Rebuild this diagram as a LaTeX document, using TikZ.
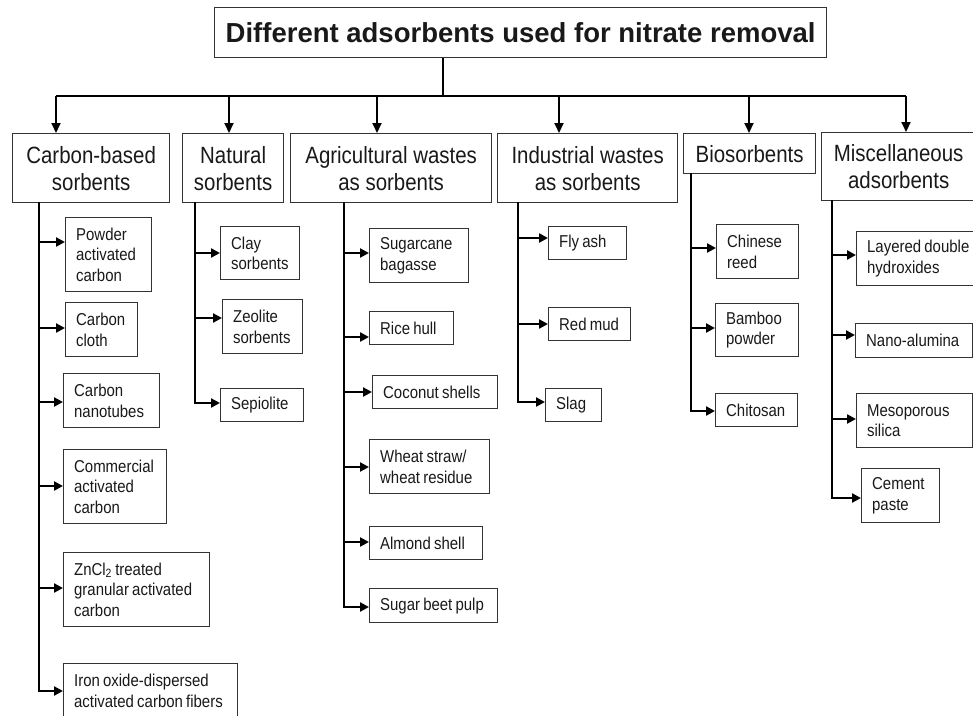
\documentclass[tikz,border=0pt]{standalone}
\usepackage{fontspec}
\setmainfont{Liberation Sans}
\newfontfamily\tallsans{Liberation Sans}[FakeStretch=0.87]
\usetikzlibrary{arrows.meta}

\tikzset{
  box/.style={draw=black!80, line width=1.3pt, inner sep=0pt, anchor=north west, text=black!90},
  titlebox/.style={box, font=\bfseries\fontsize{27.5}{33}\selectfont},
  catbox/.style={box, align=center, font=\tallsans\fontsize{23.5}{27}\selectfont},
  itembox/.style={box, align=left, inner xsep=10.5pt,
    font=\tallsans\fontsize{17.2}{20.5}\selectfont,
    execute at begin node={\hyphenpenalty=10000 \exhyphenpenalty=10000 \spaceskip=3.2pt\relax}},
  down/.style={line width=2pt, -{Triangle[length=10pt,width=9pt]}},
  feed/.style={line width=2.6pt, -{Triangle[length=9pt,width=9pt]}},
  trunk/.style={line width=1.9pt, line cap=rect}
}

\begin{document}
\begin{tikzpicture}[x=1pt,y=-1pt]
  \useasboundingbox (0,0) rectangle (973,715);
  \clip (0,0) rectangle (973,715);

  % title, stem and bus
  \node[titlebox, minimum width=612pt, minimum height=50pt] (title) at (214,7)
    {Different adsorbents used for nitrate removal};
  \coordinate (stem) at (443,96);
  \foreach \i/\x in {1/56, 2/229, 3/377, 4/559, 5/749, 6/906}
    \coordinate (b\i) at (\x,96);
  \draw[line width=1.2pt] (stem |- title.south) -- (stem);
  \draw[line width=1.8pt] (b1) -- (b6);

  % groups of adsorbents
  \node[catbox, minimum width=157pt, minimum height=69pt] (cat1) at (12,133) {Carbon-based\\sorbents};
  \node[catbox, minimum width=101pt, minimum height=69pt] (cat2) at (182,133) {Natural\\sorbents};
  \node[catbox, minimum width=201pt, minimum height=69pt] (cat3) at (290,133) {Agricultural wastes\\as sorbents};
  \node[catbox, minimum width=180pt, minimum height=69pt] (cat4) at (497,133) {Industrial wastes\\as sorbents};
  \node[catbox, minimum width=132pt, minimum height=40pt] (cat5) at (683,133) {Biosorbents};
  \node[catbox, minimum width=154pt, minimum height=68pt] (cat6) at (821,132) {Miscellaneous\\adsorbents};
  \foreach \i in {1,...,6}
    \draw[down] (b\i) -- (b\i |- cat\i.north);

  % carbon-based sorbents
  \node[itembox, text width=65pt, minimum height=74pt] (pac) at (65,217) {Powder\\activated\\carbon};
  \node[itembox, text width=51pt, minimum height=54pt] (cc) at (65,302) {Carbon\\cloth};
  \node[itembox, text width=75pt, minimum height=54pt] (cnt) at (63,373) {Carbon\\nanotubes};
  \node[itembox, text width=82pt, minimum height=74pt] (cac) at (63,449) {Commercial\\activated\\carbon};
  \node[itembox, text width=125pt, minimum height=74pt] (zn) at (63,552)
    {ZnCl\textsubscript{2}~treated\\granular~activated\\carbon};
  \node[itembox, text width=153pt, minimum height=54pt] (iof) at (63,663)
    {Iron~oxide-dispersed\\activated~carbon~fibers};
  \foreach \n/\y in {pac/242, cc/328, cnt/402, cac/486, zn/588, iof/691} {
    \coordinate (f-\n) at (39,\y);
    \draw[feed] (f-\n) -- (f-\n -| \n.west);
  }
  \draw[trunk] (f-pac |- cat1.south) -- (f-iof);

  % natural sorbents
  \node[itembox, text width=58pt, minimum height=53pt] (clay) at (220,226) {Clay\\sorbents};
  \node[itembox, text width=59pt, minimum height=54pt] (zeo) at (222,299) {Zeolite\\sorbents};
  \node[itembox, text width=62pt, minimum height=33pt] (sep) at (220,388) {Sepiolite};
  \foreach \n/\y in {clay/253, zeo/318, sep/403} {
    \coordinate (f-\n) at (195,\y);
    \draw[feed] (f-\n) -- (f-\n -| \n.west);
  }
  \draw[trunk] (f-clay |- cat2.south) -- (f-sep);

  % agricultural wastes
  \node[itembox, text width=78pt, minimum height=54pt] (sug) at (369,228) {Sugarcane\\bagasse};
  \node[itembox, text width=63pt, minimum height=33pt] (rice) at (369,311) {Rice~hull};
  \node[itembox, text width=104pt, minimum height=33pt] (coco) at (372,375) {Coconut~shells};
  \node[itembox, text width=99pt, minimum height=54pt] (wheat) at (369,439) {Wheat~straw/\\wheat~residue};
  \node[itembox, text width=92pt, minimum height=33pt] (alm) at (369,526) {Almond~shell};
  \node[itembox, text width=107pt, minimum height=34pt] (beet) at (369,588) {Sugar~beet~pulp};
  \foreach \n/\y in {sug/253, rice/337, coco/392, wheat/467, alm/542, beet/607} {
    \coordinate (f-\n) at (344,\y);
    \draw[feed] (f-\n) -- (f-\n -| \n.west);
  }
  \draw[trunk] (f-sug |- cat3.south) -- (f-beet);

  % industrial wastes
  \node[itembox, text width=57pt, minimum height=33pt] (fly) at (548,226) {Fly~ash};
  \node[itembox, text width=61pt, minimum height=33pt] (red) at (548,307) {Red~mud};
  \node[itembox, text width=35pt, minimum height=33pt] (slag) at (545,388) {Slag};
  \foreach \n/\y in {fly/238, red/324, slag/402} {
    \coordinate (f-\n) at (518,\y);
    \draw[feed] (f-\n) -- (f-\n -| \n.west);
  }
  \draw[trunk] (f-fly |- cat4.south) -- (f-slag);

  % biosorbents
  \node[itembox, text width=61pt, minimum height=54pt] (reed) at (716,224) {Chinese\\reed};
  \node[itembox, text width=62pt, minimum height=53pt] (bam) at (715,303) {Bamboo\\powder};
  \node[itembox, text width=61pt, minimum height=33pt] (chi) at (715,393) {Chitosan};
  \foreach \n/\y in {reed/248, bam/328, chi/411} {
    \coordinate (f-\n) at (691,\y);
    \draw[feed] (f-\n) -- (f-\n -| \n.west);
  }
  \draw[trunk] (f-reed |- cat5.south) -- (f-chi);

  % miscellaneous adsorbents
  \node[itembox, text width=105pt, minimum height=54pt] (ldh) at (856,231) {Layered~double\\hydroxides};
  \node[itembox, text width=96pt, minimum height=34pt] (nano) at (855,323) {Nano-alumina};
  \node[itembox, text width=95pt, minimum height=54pt] (meso) at (856,393) {Mesoporous\\silica};
  \node[itembox, text width=57pt, minimum height=54pt] (cem) at (861,468) {Cement\\paste};
  \foreach \n/\y in {ldh/255, nano/335, meso/419, cem/498} {
    \coordinate (f-\n) at (832,\y);
    \draw[feed] (f-\n) -- (f-\n -| \n.west);
  }
  \draw[trunk] (f-ldh |- cat6.south) -- (f-cem);
\end{tikzpicture}
\end{document}
